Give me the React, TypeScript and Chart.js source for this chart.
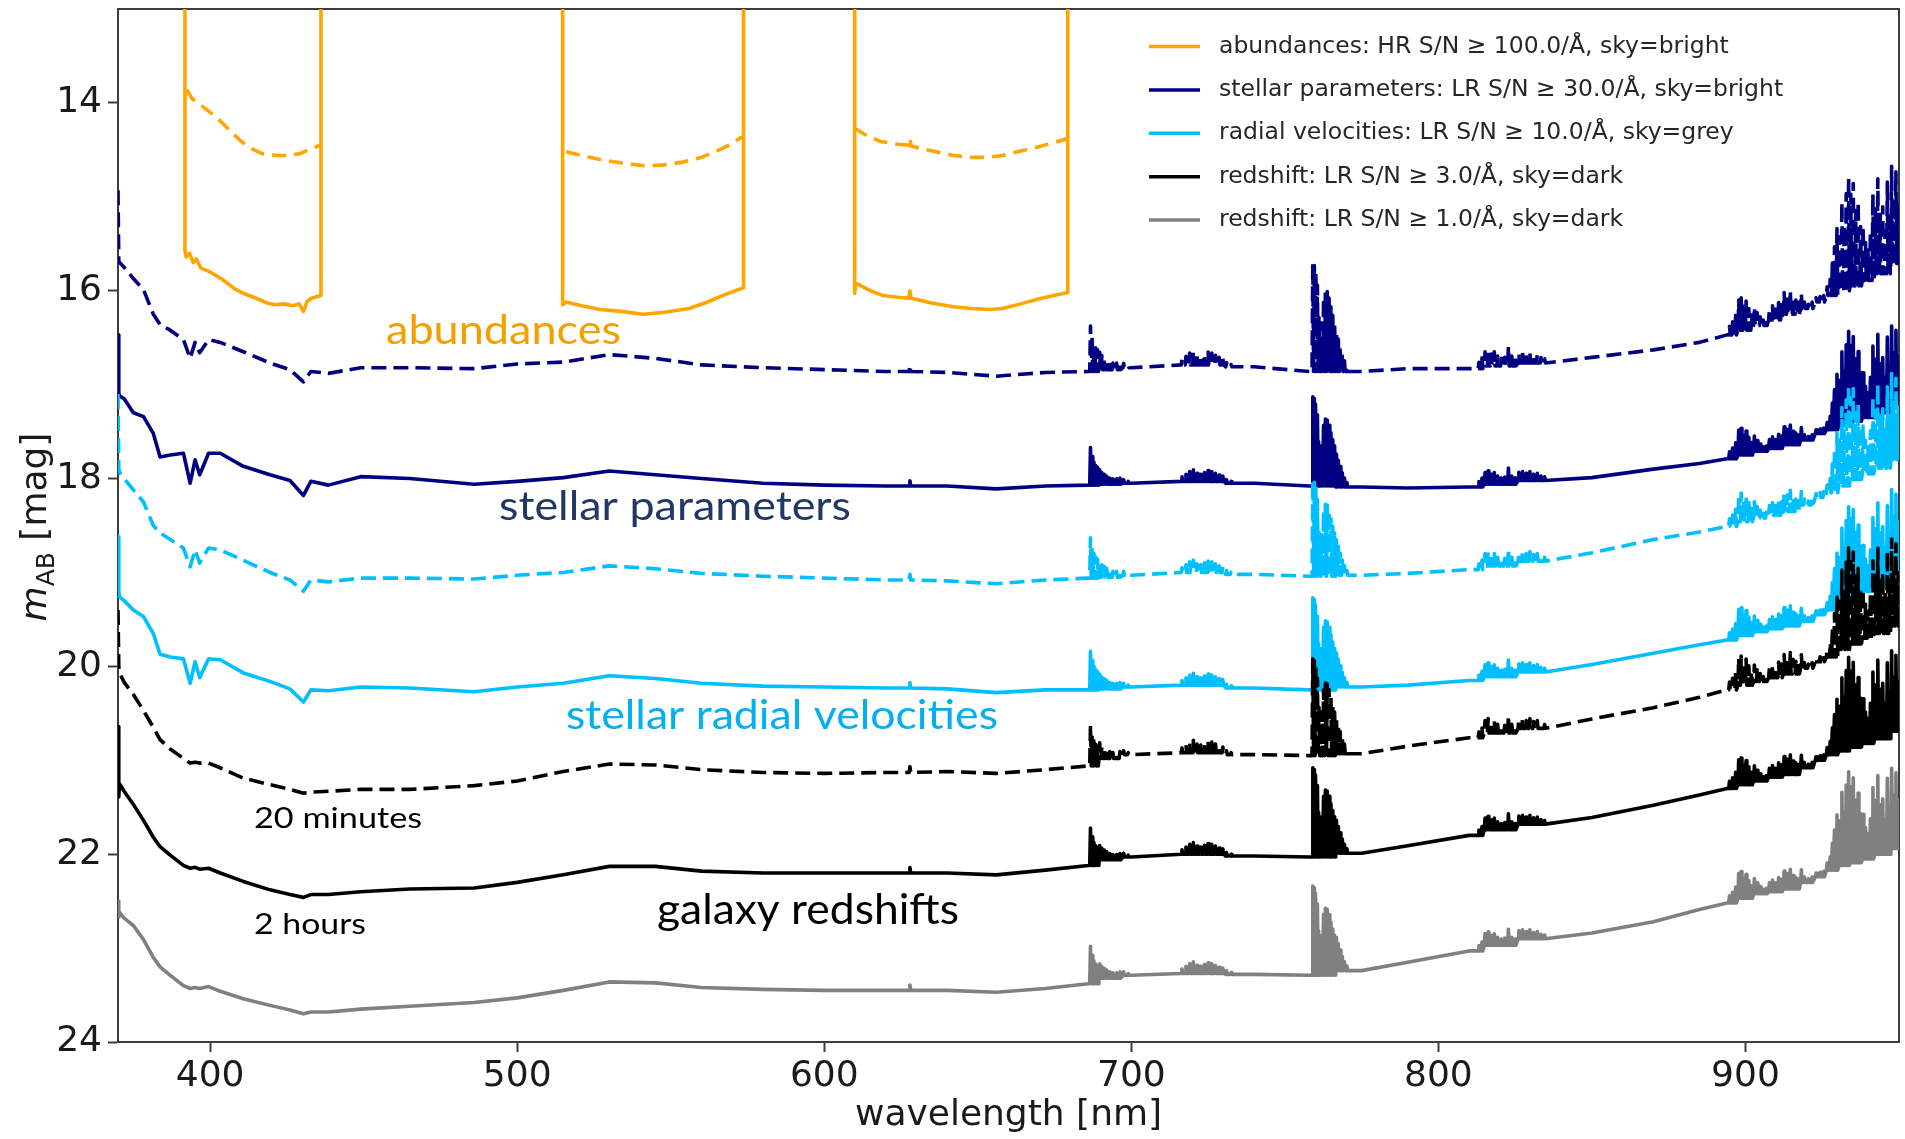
import React, { useEffect, useRef } from "react";
import { Chart, registerables } from "chart.js";

Chart.register(...registerables);

// ---------- axes ----------
const X_TICKS = [400, 500, 600, 700, 800, 900];
const Y_TICKS = [14, 16, 18, 20, 22, 24];

// ---------- shared wavelength nodes (nm) for the continuum readings ----------
const NODES_NM = [
  370.0, 370.25, 370.5, 372, 375, 378.3, 381.5, 383.7, 387, 391.3,
  393.5, 395.1, 396.6, 399.5, 403.3, 410.8, 419.5, 426, 430.4, 432.8,
  438.5, 449, 465, 486, 500, 515, 530, 545, 560, 580,
  600, 620, 640, 656, 672, 686, 693, 700, 720, 740,
  758, 775, 790, 810, 820, 830, 850, 870, 885, 894,
  900, 905, 910, 915, 920, 925, 928, 932, 936, 940,
  944, 950,
];

// stellar parameters, 20 minutes (dashed navy)
const STELLAR_20MIN = [
  14.93, 15.68, 15.7, 15.75, 15.87, 15.99, 16.25, 16.36, 16.42, 16.52,
  16.72, 16.55, 16.66, 16.52, 16.55, 16.65, 16.77, 16.84, 16.97, 16.86,
  16.88, 16.82, 16.82, 16.83, 16.78, 16.76, 16.68, 16.72, 16.79, 16.82,
  16.84, 16.86, 16.87, 16.91, 16.87, 16.86, 16.84, 16.82, 16.79, 16.81,
  16.86, 16.86, 16.83, 16.83, 16.8, 16.77, 16.71, 16.63, 16.55, 16.47,
  16.42, 16.37, 16.31, 16.25, 16.19, 16.12, 16.05, 16.0, 15.95, 15.89,
  15.82, 15.71,
];
// stellar parameters, 2 hours (solid navy)
const STELLAR_2H = [
  16.47, 17.09, 17.12, 17.15, 17.3, 17.34, 17.52, 17.77, 17.75, 17.73,
  18.05, 17.8, 17.96, 17.73, 17.73, 17.87, 17.96, 18.02, 18.18, 18.03,
  18.07, 17.98, 18.0, 18.06, 18.03, 17.99, 17.92, 17.96, 18.0, 18.05,
  18.07, 18.08, 18.08, 18.11, 18.08, 18.07, 18.06, 18.05, 18.03, 18.05,
  18.08, 18.09, 18.1, 18.09, 18.06, 18.02, 17.99, 17.9, 17.84, 17.79,
  17.75, 17.71, 17.68, 17.64, 17.59, 17.52, 17.48, 17.43, 17.39, 17.35,
  17.3, 17.23,
];
// radial velocities, 20 minutes (dashed light blue)
const RV_20MIN = [
  17.1, 17.9, 17.93, 18.0, 18.12, 18.25, 18.5, 18.58, 18.65, 18.74,
  18.94, 18.76, 18.9, 18.74, 18.76, 18.87, 19.0, 19.08, 19.2, 19.08,
  19.1, 19.06, 19.06, 19.07, 19.03, 19.0, 18.93, 18.96, 19.01, 19.04,
  19.06, 19.08, 19.09, 19.12, 19.08, 19.06, 19.05, 19.03, 19.0, 19.02,
  19.04, 19.03, 19.01, 18.97, 18.93, 18.88, 18.79, 18.65, 18.57, 18.51,
  18.46, 18.42, 18.39, 18.35, 18.28, 18.2, 18.15, 18.08, 18.01, 17.95,
  17.89, 17.8,
];
// radial velocities, 2 hours (solid light blue)
const RV_2H = [
  18.62, 19.2, 19.26, 19.3, 19.4, 19.47, 19.65, 19.87, 19.9, 19.92,
  20.18, 19.95, 20.12, 19.92, 19.93, 20.07, 20.16, 20.24, 20.38, 20.25,
  20.26, 20.22, 20.23, 20.27, 20.22, 20.18, 20.1, 20.13, 20.18, 20.21,
  20.22, 20.23, 20.24, 20.28, 20.25, 20.25, 20.24, 20.22, 20.2, 20.23,
  20.25, 20.22, 20.2, 20.15, 20.11, 20.06, 19.98, 19.86, 19.77, 19.72,
  19.67, 19.63, 19.6, 19.57, 19.52, 19.45, 19.4, 19.33, 19.26, 19.2,
  19.12, 19.0,
];
// redshift S/N 3, 20 minutes (dashed black)
const Z3_20MIN = [
  19.4, 20.0, 20.07, 20.17, 20.3, 20.47, 20.65, 20.78, 20.88, 20.98,
  21.03, 21.02, 21.03, 21.03, 21.08, 21.19, 21.26, 21.31, 21.35, 21.34,
  21.33, 21.31, 21.31, 21.27, 21.22, 21.12, 21.04, 21.05, 21.1, 21.13,
  21.14, 21.13, 21.12, 21.14, 21.1, 21.06, 20.98, 20.94, 20.92, 20.94,
  20.95, 20.93, 20.85, 20.76, 20.71, 20.66, 20.56, 20.44, 20.33, 20.25,
  20.2, 20.16, 20.12, 20.08, 20.02, 19.95, 19.9, 19.82, 19.76, 19.7,
  19.65, 19.57,
];
// redshift S/N 3, 2 hours (solid black)
const Z3_2H = [
  20.64, 21.39, 21.25, 21.33, 21.47, 21.64, 21.82, 21.92, 22.01, 22.12,
  22.15, 22.14, 22.16, 22.15, 22.2, 22.29, 22.38, 22.43, 22.46, 22.43,
  22.43, 22.4, 22.37, 22.36, 22.3, 22.22, 22.13, 22.13, 22.18, 22.2,
  22.2, 22.2, 22.2, 22.22, 22.17, 22.12, 22.06, 22.03, 22.0, 22.02,
  22.03, 21.99, 21.91, 21.8, 21.74, 21.68, 21.61, 21.48, 21.37, 21.3,
  21.26, 21.22, 21.18, 21.15, 21.08, 21.0, 20.94, 20.9, 20.86, 20.82,
  20.77, 20.69,
];
// redshift S/N 1, 2 hours (solid grey)
const Z1_2H = [
  22.5, 22.67, 22.62, 22.68, 22.76, 22.91, 23.1, 23.2, 23.29, 23.4,
  23.43, 23.42, 23.43, 23.41, 23.46, 23.54, 23.61, 23.66, 23.7, 23.68,
  23.68, 23.65, 23.62, 23.58, 23.53, 23.45, 23.36, 23.37, 23.42, 23.44,
  23.45, 23.45, 23.45, 23.47, 23.43, 23.38, 23.32, 23.29, 23.27, 23.28,
  23.29, 23.24, 23.15, 23.03, 22.97, 22.9, 22.84, 22.72, 22.59, 22.52,
  22.47, 22.42, 22.4, 22.37, 22.3, 22.24, 22.17, 22.12, 22.09, 22.05,
  22.0, 21.94,
];

// ---------- sky / telluric residual spikes (nm, mag brighter than the local continuum) ----------
const SKY_NM = [
  627.9,
  686.7, 687.2, 687.8, 688.4, 689.0, 689.7, 690.4, 691.2, 692.0, 693.0, 694.0, 695.2, 696.3, 697.5, 699.0,
  716.5, 717.8, 719.0, 720.2, 721.4, 722.6, 723.8, 725.0, 726.2, 727.4, 728.6, 729.8, 731.0, 732.5,
  759.1, 759.6, 760.1, 760.6, 761.1, 762.0, 762.6, 763.2, 763.8, 764.4, 765.0, 765.6, 766.2, 766.8, 767.4, 768.0, 768.7, 769.4, 770.2,
  813.2, 814.2, 815.2, 816.2, 817.2, 818.2, 819.3, 820.5, 821.6, 822.8, 823.9, 825.0, 826.2, 827.4, 828.6, 829.8, 831.0, 832.2, 833.4, 834.6,
  894.8, 895.8, 896.8, 897.8, 898.6, 899.4, 900.2, 901.1, 902.0, 902.9, 903.8, 904.8, 905.8,
  906.8, 907.8, 908.8, 909.8, 910.8, 911.7, 912.6, 913.6, 914.6, 915.5, 916.4, 917.3, 918.2, 919.2,
  920.5, 921.7, 923.0, 924.3, 925.5, 926.6,
  927.6, 928.3, 929.0, 929.8, 930.6, 931.4, 932.1, 932.8, 933.6, 934.3, 935.1, 935.9, 936.7, 937.5, 938.3,
  939.1, 939.9, 940.7, 941.5, 942.3, 943.1, 943.9, 944.7, 945.5, 946.2, 946.9, 947.6, 948.3, 949.0, 949.7,
];
const SKY_DMAG = [
  0.06,
  0.42, 0.32, 0.26, 0.22, 0.2, 0.16, 0.13, 0.11, 0.09, 0.07, 0.06, 0.06, 0.07, 0.04, 0.02,
  0.05, 0.08, 0.11, 0.13, 0.09, 0.08, 0.1, 0.12, 0.11, 0.09, 0.07, 0.06, 0.04, 0.02,
  1.0, 0.98, 0.92, 0.8, 0.5, 0.45, 0.68, 0.75, 0.74, 0.68, 0.6, 0.52, 0.45, 0.37, 0.3, 0.23, 0.16, 0.1, 0.05,
  0.06, 0.1, 0.13, 0.15, 0.11, 0.13, 0.09, 0.07, 0.08, 0.18, 0.09, 0.07, 0.09, 0.1, 0.08, 0.1, 0.07, 0.08, 0.05, 0.04,
  0.08, 0.12, 0.18, 0.28, 0.3, 0.22, 0.27, 0.2, 0.14, 0.17, 0.12, 0.08, 0.05,
  0.06, 0.1, 0.13, 0.1, 0.16, 0.14, 0.2, 0.17, 0.22, 0.15, 0.13, 0.11, 0.14, 0.06,
  0.04, 0.06, 0.04, 0.05, 0.06, 0.08,
  0.15, 0.3, 0.45, 0.62, 0.5, 0.82, 0.6, 0.9, 1.05, 0.85, 0.95, 0.7, 0.78, 0.55, 0.5,
  0.35, 0.28, 0.45, 0.8, 0.6, 0.88, 0.55, 0.62, 0.4, 0.85, 0.5, 0.9, 0.6, 0.85, 0.55,
];
// spike strength per curve (same order as the curves below)
const SKY_GAIN = [1.15, 0.95, 1.02, 0.98, 1.03, 0.95, 0.95];

// ---------- abundances (HR windows), null = gap between windows ----------
const ABUND_2H_NM = [
  391.8, 391.8, 392.2, 393.3, 394.5, 395.5, 397, 400, 404, 408, 411, 415, 418.5, 421, 424, 427, 429, 430.4, 431.5, 433, 436, 436.1,
  475,
  514.8, 514.8, 515.9, 521, 527, 534, 541, 548, 556, 562, 567, 573.6, 573.7,
  590,
  609.9, 609.9, 610.2, 615, 619, 624, 627.5, 627.9, 628.3, 635, 642, 648, 654, 658, 664, 670.7, 679.2, 679.3,
];
const ABUND_2H_MAG = [
  12.5, 15.57, 15.64, 15.6, 15.7, 15.66, 15.76, 15.8, 15.88, 15.98, 16.03, 16.08, 16.13, 16.15, 16.14, 16.16, 16.14, 16.22, 16.12, 16.08, 16.05, 12.5,
  null,
  12.5, 16.15, 16.12, 16.16, 16.2, 16.22, 16.25, 16.23, 16.19, 16.12, 16.05, 15.97, 12.5,
  null,
  12.5, 16.03, 15.92, 16.0, 16.05, 16.07, 16.08, 16.0, 16.08, 16.13, 16.17, 16.19, 16.2, 16.19, 16.14, 16.08, 16.02, 12.5,
];
const ABUND_20MIN_NM = [
  392.4, 394, 398, 402, 406, 409.8, 413, 417, 421.8, 425, 429.3, 432, 435.8,
  475,
  515.9, 521, 526.7, 534, 541.7, 548, 554, 560, 564.5, 569, 573.3,
  590,
  609.9, 614, 618.2, 624, 627.6, 627.9, 628.3, 632, 636.5, 642, 647.9, 653, 658, 663, 668.4, 674, 679.2,
];
const ABUND_20MIN_MAG = [
  13.86, 13.95, 14.05, 14.15, 14.28, 14.4, 14.48, 14.54, 14.56, 14.56, 14.54, 14.5, 14.45,
  null,
  14.52, 14.56, 14.6, 14.64, 14.67, 14.66, 14.63, 14.58, 14.52, 14.45, 14.36,
  null,
  14.27, 14.35, 14.41, 14.44, 14.45, 14.38, 14.46, 14.49, 14.52, 14.56, 14.58, 14.58, 14.56, 14.52, 14.48, 14.43, 14.38,
];

// ---------- legend & annotations ----------
const LEGEND_LABELS = [
  "abundances: HR S/N \u2265 100.0/\u00C5, sky=bright",
  "stellar parameters: LR S/N \u2265 30.0/\u00C5, sky=bright",
  "radial velocities: LR S/N \u2265 10.0/\u00C5, sky=grey",
  "redshift: LR S/N \u2265 3.0/\u00C5, sky=dark",
  "redshift: LR S/N \u2265 1.0/\u00C5, sky=dark",
];
const NOTE_TEXTS = [
  "abundances",
  "stellar parameters",
  "stellar radial velocities",
  "galaxy redshifts",
  "20 minutes",
  "2 hours",
];

const ORANGE = "#ffa500";
const NAVY = "#000080";
const SKYBLUE = "#00bfff";
const BLACK = "#000000";
const GREY = "#808080";
const LEGEND_COLORS = [ORANGE, NAVY, SKYBLUE, BLACK, GREY];

// layout of annotation texts (px): x, baseline, target width, font size, color
const NOTE_LAYOUT = [
  { x: 386, y: 344, w: 235, size: 40, color: "#f2a000" },
  { x: 499, y: 520, w: 352, size: 41, color: "#1f3864" },
  { x: 566, y: 729, w: 432, size: 41, color: "#00b0f0" },
  { x: 657, y: 924, w: 302, size: 42, color: "#000000" },
  { x: 254, y: 828, w: 168, size: 29, color: "#000000" },
  { x: 254, y: 934, w: 112, size: 29, color: "#000000" },
];

function curveWithSky(cont: number[], gain: number) {
  const pts: { x: number; y: number | null }[] = NODES_NM.map((x, i) => ({ x, y: cont[i] }));
  SKY_NM.forEach((s, j) => {
    let best = 0;
    for (let i = 1; i < NODES_NM.length; i++) {
      if (Math.abs(NODES_NM[i] - s) < Math.abs(NODES_NM[best] - s)) best = i;
    }
    const b = cont[best];
    pts.push({ x: s - 0.25, y: b }, { x: s, y: b - SKY_DMAG[j] * gain }, { x: s + 0.25, y: b });
  });
  pts.sort((a, b) => a.x - b.x);
  return pts;
}

function pairs(xs: number[], ys: (number | null)[]) {
  return xs.map((x, i) => ({ x, y: ys[i] }));
}

const DEJAVU = '"DejaVu Sans", sans-serif';

const overlayPlugin = {
  id: "overlay",
  afterDraw(chart: any) {
    const ctx = chart.ctx as CanvasRenderingContext2D;
    ctx.save();
    // legend
    LEGEND_LABELS.forEach((t, i) => {
      const y = 46.5 + i * 43.4;
      ctx.setLineDash([]);
      ctx.strokeStyle = LEGEND_COLORS[i];
      ctx.lineWidth = 3.5;
      ctx.lineCap = "butt";
      ctx.beginPath();
      ctx.moveTo(1149, y);
      ctx.lineTo(1200, y);
      ctx.stroke();
      ctx.fillStyle = "#262626";
      ctx.font = `23.5px ${DEJAVU}`;
      ctx.textBaseline = "middle";
      ctx.textAlign = "left";
      ctx.fillText(t, 1219, y);
    });
    // annotations
    NOTE_TEXTS.forEach((t, i) => {
      const n = NOTE_LAYOUT[i];
      ctx.font = `${n.size}px Lato, "Open Sans", sans-serif`;
      const w = ctx.measureText(t).width;
      ctx.save();
      ctx.translate(n.x, n.y);
      ctx.scale(n.w / w, 1);
      ctx.fillStyle = n.color;
      ctx.textBaseline = "alphabetic";
      ctx.textAlign = "left";
      ctx.fillText(t, 0, 0);
      ctx.restore();
    });
    // y axis title: m_AB [mag]
    ctx.save();
    ctx.translate(46, 527);
    ctx.rotate(-Math.PI / 2);
    ctx.fillStyle = "#1a1a1a";
    ctx.textBaseline = "alphabetic";
    ctx.textAlign = "left";
    const f1 = `italic 36px ${DEJAVU}`;
    const f2 = `25px ${DEJAVU}`;
    const f3 = `36px ${DEJAVU}`;
    ctx.font = f1;
    const w1 = ctx.measureText("m").width;
    ctx.font = f2;
    const w2 = ctx.measureText("AB").width;
    ctx.font = f3;
    const w3 = ctx.measureText(" [mag]").width;
    let u = -(w1 + w2 + w3) / 2;
    ctx.font = f1;
    ctx.fillText("m", u, 0);
    u += w1;
    ctx.font = f2;
    ctx.fillText("AB", u, 8);
    u += w2;
    ctx.font = f3;
    ctx.fillText(" [mag]", u, 0);
    ctx.restore();
    ctx.restore();
  },
};

export default function App() {
  const ref = useRef<HTMLCanvasElement>(null);

  useEffect(() => {
    const canvas = ref.current;
    if (!canvas) return;

    const curves = [
      { cont: STELLAR_20MIN, color: NAVY, dash: true },
      { cont: STELLAR_2H, color: NAVY, dash: false },
      { cont: RV_20MIN, color: SKYBLUE, dash: true },
      { cont: RV_2H, color: SKYBLUE, dash: false },
      { cont: Z3_20MIN, color: BLACK, dash: true },
      { cont: Z3_2H, color: BLACK, dash: false },
      { cont: Z1_2H, color: GREY, dash: false },
    ];

    const base = {
      borderWidth: 3.6,
      pointRadius: 0,
      pointHoverRadius: 0,
      fill: false,
      tension: 0,
      spanGaps: false,
      borderJoinStyle: "round",
      borderCapStyle: "butt",
    };

    const datasets: any[] = [
      {
        ...base,
        label: "abundances 2h",
        data: pairs(ABUND_2H_NM, ABUND_2H_MAG),
        borderColor: ORANGE,
        order: 100,
      },
      {
        ...base,
        label: "abundances 20min",
        data: pairs(ABUND_20MIN_NM, ABUND_20MIN_MAG),
        borderColor: ORANGE,
        borderDash: [14, 8],
        order: 99,
      },
      ...curves.map((c, i) => ({
        ...base,
        label: "curve" + i,
        data: curveWithSky(c.cont, SKY_GAIN[i]),
        borderColor: c.color,
        borderDash: c.dash ? [15, 7] : [],
        order: 90 - i,
      })),
    ];

    const tickFont = { family: DEJAVU, size: 36 };
    const spine = { display: true, color: "#3c3c3c", width: 2 };
    const tickGrid = {
      display: true,
      drawOnChartArea: false,
      drawTicks: true,
      tickLength: 10,
      tickWidth: 2,
      tickColor: "#3c3c3c",
      color: "#3c3c3c",
    };

    const chart = new Chart(canvas, {
      type: "line",
      data: { datasets },
      plugins: [overlayPlugin],
      options: {
        responsive: false,
        maintainAspectRatio: false,
        animation: false,
        devicePixelRatio: 1,
        events: [],
        layout: { padding: { top: 9, right: 6, left: 0, bottom: 0 } },
        plugins: {
          legend: { display: false },
          tooltip: { enabled: false },
          title: { display: false },
        },
        scales: {
          x: {
            type: "linear",
            position: "bottom",
            min: 370,
            max: 950,
            afterBuildTicks: (s: any) => {
              s.ticks = X_TICKS.map((v) => ({ value: v }));
            },
            afterFit: (s: any) => {
              s.height = 97;
              s.paddingLeft = 0;
              s.paddingRight = 0;
            },
            ticks: {
              font: tickFont,
              color: "#1a1a1a",
              padding: 3,
              maxRotation: 0,
              autoSkip: false,
              callback: (v: any) => String(v),
            },
            grid: tickGrid,
            border: spine,
            title: {
              display: true,
              text: "wavelength [nm]",
              font: { family: DEJAVU, size: 36 },
              color: "#1a1a1a",
              padding: { top: 0, bottom: 2 },
            },
          },
          y: {
            type: "linear",
            position: "left",
            reverse: true,
            min: 13,
            max: 24,
            afterBuildTicks: (s: any) => {
              s.ticks = Y_TICKS.map((v) => ({ value: v }));
            },
            afterFit: (s: any) => {
              s.width = 118;
              s.paddingTop = 0;
              s.paddingBottom = 0;
            },
            ticks: {
              font: tickFont,
              color: "#1a1a1a",
              padding: 6,
              autoSkip: false,
              callback: (v: any) => String(v),
            },
            grid: tickGrid,
            border: spine,
          },
          xTop: {
            type: "linear",
            position: "top",
            min: 370,
            max: 950,
            ticks: { display: false },
            grid: { display: false, drawTicks: false },
            border: spine,
            afterFit: (s: any) => {
              s.height = 0;
              s.paddingLeft = 0;
              s.paddingRight = 0;
            },
          },
          yRight: {
            type: "linear",
            position: "right",
            min: 13,
            max: 24,
            ticks: { display: false },
            grid: { display: false, drawTicks: false },
            border: spine,
            afterFit: (s: any) => {
              s.width = 0;
              s.paddingTop = 0;
              s.paddingBottom = 0;
            },
          },
        },
      } as any,
    });

    return () => chart.destroy();
  }, []);

  return (
    <div
      style={{
        position: "absolute",
        left: 0,
        top: 0,
        width: 1905,
        height: 1139,
        background: "#ffffff",
      }}
    >
      <canvas ref={ref} width={1905} height={1139} style={{ display: "block", width: 1905, height: 1139 }} />
    </div>
  );
}
